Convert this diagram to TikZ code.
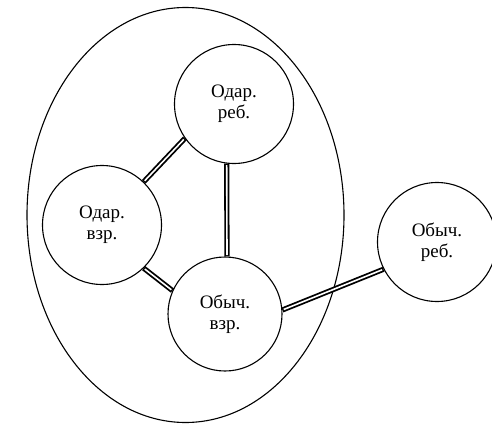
\documentclass[tikz,border=0pt]{standalone}
\usepackage{fontspec}
\setmainfont{Liberation Serif}
\tikzset{
  person/.style={circle, draw, line width=1.1pt, minimum size=119pt, inner sep=0pt, align=center,
    font=\fontsize{19}{21}\selectfont},
  tieouter/.style={line width=5.2pt},
  tieinner/.style={white, line width=1.6pt, shorten <=1.4pt, shorten >=1.4pt}
}
\begin{document}
\begin{tikzpicture}[x=1pt,y=-1pt]
\useasboundingbox (0,0) rectangle (492,423);
\draw[line width=1.1pt] (185.5,215) ellipse [x radius=158.5, y radius=207.5];
\node[person] (A) at (234,104) {Одар.\\реб.};
\node[person] (B) at (102,225) {Одар.\\взр.};
\node[person, minimum size=114pt] (C) at (225,314) {Обыч.\\взр.};
\node[person] (D) at (437,242) {Обыч.\\реб.};
\foreach \p/\q in {A.215/B.46, A.-97/C.88, B.-46/C.156, C.4/D.207}{
  \draw[tieouter] (\p) -- (\q);
  \draw[tieinner] (\p) -- (\q);
}
\end{tikzpicture}
\end{document}
